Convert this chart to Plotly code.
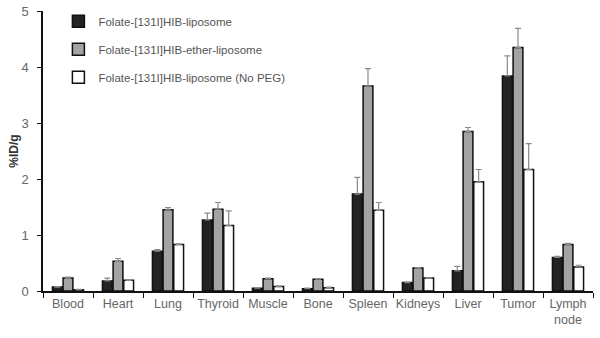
import plotly.graph_objects as go

organs = ["Blood", "Heart", "Lung", "Thyroid", "Muscle", "Bone", "Spleen",
          "Kidneys", "Liver", "Tumor", "Lymph<br>node"]

series_names = ["Folate-[131I]HIB-liposome",
                "Folate-[131I]HIB-ether-liposome",
                "Folate-[131I]HIB-liposome (No PEG)"]

peg_liposome = [0.07, 0.18, 0.71, 1.27, 0.05, 0.04, 1.73, 0.15, 0.36, 3.84, 0.60]
peg_liposome_sd = [0.01, 0.05, 0.03, 0.12, 0.01, 0.01, 0.30, 0.01, 0.08, 0.36, 0.02]

ether_liposome = [0.23, 0.53, 1.45, 1.46, 0.22, 0.21, 3.66, 0.41, 2.85, 4.35, 0.83]
ether_liposome_sd = [0.02, 0.05, 0.04, 0.12, 0.01, 0.01, 0.31, 0.01, 0.07, 0.34, 0.02]

nopeg_liposome = [0.02, 0.19, 0.83, 1.17, 0.08, 0.06, 1.44, 0.23, 1.95, 2.17, 0.43]
nopeg_liposome_sd = [0.01, 0.01, 0.01, 0.26, 0.01, 0.01, 0.14, 0.01, 0.22, 0.46, 0.03]

fill_colors = ["#232323", "#a3a3a3", "#ffffff"]

fig = go.Figure()
for i, (name, vals, sd, col) in enumerate(zip(
        series_names,
        [peg_liposome, ether_liposome, nopeg_liposome],
        [peg_liposome_sd, ether_liposome_sd, nopeg_liposome_sd],
        fill_colors)):
    fig.add_trace(go.Bar(
        x=organs, y=vals, name=name, legendgroup=f"g{i}",
        marker=dict(color=col, line=dict(color="#111111", width=1.5)),
        error_y=dict(type="data", symmetric=False, array=sd,
                     arrayminus=[0] * len(sd), color="#8a8a8a",
                     thickness=1.2, width=3),
    ))

fig.update_layout(
    width=600, height=338,
    margin=dict(l=43, r=7, t=11, b=47),
    paper_bgcolor="white", plot_bgcolor="white",
    barmode="group", bargap=0.36, bargroupgap=0.08,
    font=dict(family="Liberation Sans, Arial, sans-serif", color="#555555", size=12),
    showlegend=True,
    legend=dict(x=0.028, y=1.015, xanchor="left", yanchor="top",
                bgcolor="rgba(0,0,0,0)", font=dict(size=11.5, color="#555555"),
                itemwidth=30, tracegroupgap=9, traceorder="grouped"),
    xaxis=dict(
        showline=True, linecolor="#111111", linewidth=1.5,
        ticks="outside", tickson="boundaries", ticklen=5, tickcolor="#111111",
        tickfont=dict(size=12.5, color="#666666"), tickangle=0,
        showgrid=False, zeroline=False,
    ),
    yaxis=dict(
        range=[0, 5], dtick=1,
        showline=True, linecolor="#111111", linewidth=1.5,
        ticks="outside", ticklen=4, tickcolor="#111111",
        tickfont=dict(size=13, color="#666666"), ticklabelstandoff=6,
        showgrid=False, zeroline=False, automargin=False,
        title=dict(text="<b>%ID/g</b>", font=dict(size=12, color="#333333"), standoff=0),
    ),
)

fig.write_html("out.html")
